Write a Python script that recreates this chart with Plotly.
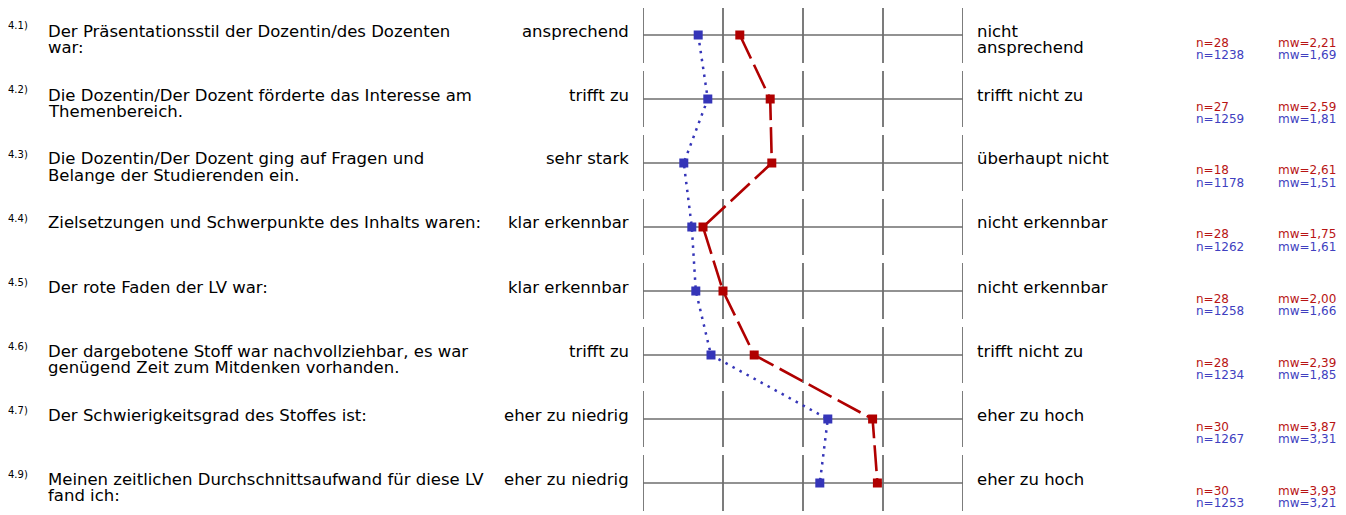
import plotly.graph_objects as go

# ---------------- data ----------------
item_ids = ["4.1)", "4.2)", "4.3)", "4.4)", "4.5)", "4.6)", "4.7)", "4.9)"]
questions = [
    ["Der Präsentationsstil der Dozentin/des Dozenten", "war:"],
    ["Die Dozentin/Der Dozent förderte das Interesse am", "Themenbereich."],
    ["Die Dozentin/Der Dozent ging auf Fragen und", "Belange der Studierenden ein."],
    ["Zielsetzungen und Schwerpunkte des Inhalts waren:"],
    ["Der rote Faden der LV war:"],
    ["Der dargebotene Stoff war nachvollziehbar, es war", "genügend Zeit zum Mitdenken vorhanden."],
    ["Der Schwierigkeitsgrad des Stoffes ist:"],
    ["Meinen zeitlichen Durchschnittsaufwand für diese LV", "fand ich:"],
]
left_labels = ["ansprechend", "trifft zu", "sehr stark", "klar erkennbar",
               "klar erkennbar", "trifft zu", "eher zu niedrig", "eher zu niedrig"]
right_labels = [["nicht", "ansprechend"], ["trifft nicht zu"], ["überhaupt nicht"],
                ["nicht erkennbar"], ["nicht erkennbar"], ["trifft nicht zu"],
                ["eher zu hoch"], ["eher zu hoch"]]
mw_course = [2.21, 2.59, 2.61, 1.75, 2.00, 2.39, 3.87, 3.93]
n_course = [28, 27, 18, 28, 28, 28, 30, 30]
mw_all = [1.69, 1.81, 1.51, 1.61, 1.66, 1.85, 3.31, 3.21]
n_all = [1238, 1259, 1178, 1262, 1258, 1234, 1267, 1253]
scale_ticks = [1, 2, 3, 4, 5]

# ---------------- layout geometry (page pixels) ----------------
OFF = 8                     # browser body margin
W, H = 1346 - OFF, 515 - OFF
PL, PR = 643 - OFF, 963 - OFF   # figure pixel of scale value 1 and 5
ROW0, ROWSTEP = 35 - OFF, 64
XMIN, XMAX = scale_ticks[0], scale_ticks[-1]
PW = PR - PL

def px2y(py):
    return (py - ROW0) / ROWSTEP

def ppx(px):               # page pixel x -> paper x
    return (px - OFF - PL) / PW

def ppy(py):               # page pixel y -> paper y
    return 1 - (py - OFF) / H

RED = "#b00000"
RED_T = "#b81414"
BLUE = "#3535b8"
BLUE_T = "#4040c0"
GRID = "#6e6e6e"
FONT = "DejaVu Sans"

rows = list(range(len(item_ids)))
fig = go.Figure()

shapes = []
half = 28 / ROWSTEP
for r in rows:
    shapes.append(dict(type="line", xref="x", yref="y", x0=XMIN, x1=XMAX, y0=r, y1=r,
                       line=dict(color=GRID, width=1.6), layer="below"))
    for t in scale_ticks:
        shapes.append(dict(type="line", xref="x", yref="y", x0=t, x1=t,
                           y0=r - half, y1=r + half,
                           line=dict(color=GRID, width=1.8), layer="below"))

fig.add_trace(go.Scatter(
    x=mw_all, y=rows, mode="lines+markers",
    line=dict(color=BLUE, width=2.5, dash="2.5px,5.5px"),
    marker=dict(symbol="square", size=9, color=BLUE),
    cliponaxis=False, showlegend=False, hoverinfo="skip"))
fig.add_trace(go.Scatter(
    x=mw_course, y=rows, mode="lines+markers",
    line=dict(color=RED, width=2.6, dash="26px,7px"),
    marker=dict(symbol="square", size=9, color=RED),
    cliponaxis=False, showlegend=False, hoverinfo="skip"))

ann = []
def add(text, px, py, size, color="#000000", anchor="left"):
    ann.append(dict(text=text, x=ppx(px), y=ppy(py), xref="paper", yref="paper",
                    xanchor=anchor, yanchor="middle", showarrow=False,
                    borderpad=0, borderwidth=0,
                    font=dict(family=FONT, size=size, color=color)))

LINE = 16.7
for r in rows:
    c = 35 + ROWSTEP * r      # page pixel row centre
    add(item_ids[r], 8, c - 9, 10)
    for k, line in enumerate(questions[r]):
        add(line, 48, c - 4 + k * LINE, 16.5)
    add(left_labels[r], 629, c - 4, 16.5, anchor="right")
    for k, line in enumerate(right_labels[r]):
        add(line, 977, c - 4 + k * LINE, 16.5)
    add(f"n={n_course[r]}", 1196, c + 7.5, 12, RED_T)
    add(f"mw={mw_course[r]:.2f}".replace(".", ","), 1336, c + 7.5, 12, RED_T, "right")
    add(f"n={n_all[r]}", 1196, c + 19.5, 12, BLUE_T)
    add(f"mw={mw_all[r]:.2f}".replace(".", ","), 1336, c + 19.5, 12, BLUE_T, "right")

fig.update_layout(
    width=W, height=H,
    margin=dict(l=PL, r=W - PR, t=0, b=0, pad=0, autoexpand=False),
    paper_bgcolor="white", plot_bgcolor="white",
    xaxis=dict(range=[XMIN, XMAX], visible=False, fixedrange=True),
    yaxis=dict(range=[px2y(H), px2y(0)], visible=False, fixedrange=True),
    shapes=shapes, annotations=ann,
)
fig.write_html("out.html", config={"displayModeBar": False})
